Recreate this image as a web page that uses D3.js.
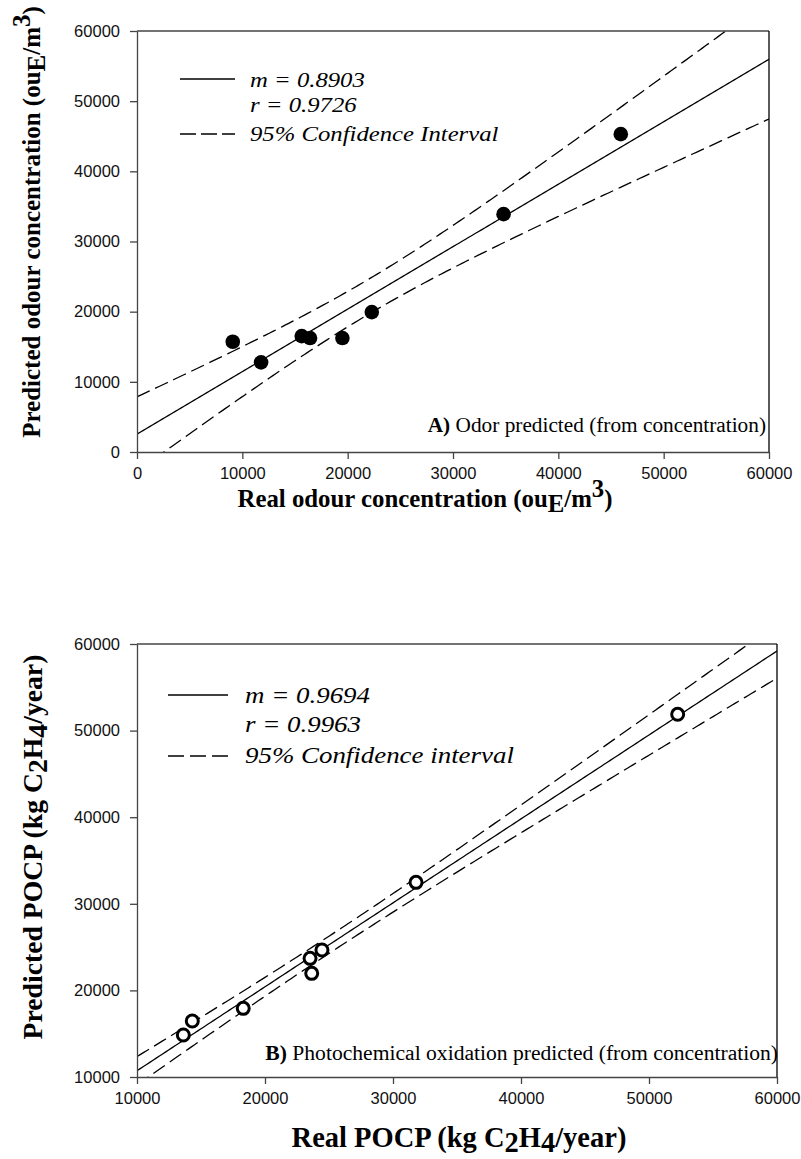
<!DOCTYPE html>
<html>
<head>
<meta charset="utf-8">
<script src="https://cdn.jsdelivr.net/npm/d3@7"></script>
<style>
  html, body { margin: 0; padding: 0; background: #fff; }
  svg { display: block; }
  .tick text { font-family: "Liberation Sans", Arial, sans-serif; font-size: 16.5px; fill: #111; }
  .ttl { font-family: "Liberation Serif", "Times New Roman", serif; font-weight: bold; fill: #000; }
  .leg { font-family: "Liberation Serif", "Times New Roman", serif; font-style: italic; fill: #000; }
  .note { font-family: "Liberation Serif", "Times New Roman", serif; fill: #000; }
</style>
</head>
<body>
<svg id="fig" width="801" height="1159"></svg>
<script>
// Panel A: odour concentration (ouE/m3), real vs predicted
const odourReal = [9090, 11780, 15640, 16430, 19500, 22290, 34800, 45930];
const odourPred = [15710, 12780, 16520, 16240, 16240, 19940, 33900, 45300];
const odourSlope = 0.8903;
const odourR = 0.9726;
const odourTicksX = [0, 10000, 20000, 30000, 40000, 50000, 60000];
const odourTicksY = [0, 10000, 20000, 30000, 40000, 50000, 60000];

// Panel B: photochemical ozone creation potential (kg C2H4/year)
const pocpReal = [13620, 14320, 18300, 23520, 23650, 24450, 31800, 52240];
const pocpPred = [14850, 16470, 17930, 23700, 21970, 24670, 32480, 51880];
const pocpSlope = 0.9694;
const pocpR = 0.9963;
const pocpTicksX = [10000, 20000, 30000, 40000, 50000, 60000];
const pocpTicksY = [10000, 20000, 30000, 40000, 50000, 60000];

// Student t (two-sided 95%, n - 2 = 6 degrees of freedom)
const T95 = 2.447;

const svg = d3.select("#fig");
svg.append("rect").attr("width", 801).attr("height", 1159).attr("fill", "#fff");

// Line with the reported slope through the data centroid,
// plus the 95% confidence band of the mean response.
function fitModel(xs, ys, m) {
  const n = xs.length;
  const xbar = d3.mean(xs), ybar = d3.mean(ys);
  const b = ybar - m * xbar;
  const sxx = d3.sum(xs, x => (x - xbar) ** 2);
  const sse = d3.sum(xs.map((x, i) => (ys[i] - (m * x + b)) ** 2));
  const s = Math.sqrt(sse / (n - 2));
  const half = x => T95 * s * Math.sqrt(1 / n + (x - xbar) ** 2 / sxx);
  return { m, b, half };
}

function panel(cfg) {
  const { id, left, top, right, bottom, xs, ys, slope, ticksX, ticksY } = cfg;
  const x = d3.scaleLinear().domain(d3.extent(ticksX)).range([left, right]);
  const y = d3.scaleLinear().domain(d3.extent(ticksY)).range([bottom, top]);
  const g = svg.append("g");

  g.append("clipPath").attr("id", id)
    .append("rect").attr("x", left).attr("y", top)
    .attr("width", right - left).attr("height", bottom - top);

  const model = fitModel(xs, ys, slope);
  const [d0, d1] = x.domain();
  const grid = d3.range(0, 201).map(i => d0 + (d1 - d0) * i / 200);
  const line = d3.line().x(d => x(d[0])).y(d => y(d[1]));

  const plot = g.append("g").attr("clip-path", `url(#${id})`);
  plot.append("path")
    .attr("d", line(grid.map(v => [v, model.m * v + model.b])))
    .attr("fill", "none").attr("stroke", "#000").attr("stroke-width", 1.3);
  [1, -1].forEach(sign => {
    plot.append("path")
      .attr("d", line(grid.map(v => [v, model.m * v + model.b + sign * model.half(v)])))
      .attr("fill", "none").attr("stroke", "#000").attr("stroke-width", 1.3)
      .attr("stroke-dasharray", cfg.dash);
  });

  // frame: top and right edges
  g.append("line").attr("x1", left).attr("x2", right).attr("y1", top).attr("y2", top)
    .attr("stroke", "#444").attr("stroke-width", 1.3);
  g.append("line").attr("x1", right).attr("x2", right).attr("y1", top).attr("y2", bottom)
    .attr("stroke", "#000").attr("stroke-width", 1.3);

  const ax = g.append("g").attr("transform", `translate(0,${bottom})`)
    .call(d3.axisBottom(x).tickValues(ticksX).tickFormat(d3.format("d"))
      .tickSize(7).tickSizeOuter(0).tickPadding(8));
  const ay = g.append("g").attr("transform", `translate(${left},0)`)
    .call(d3.axisLeft(y).tickValues(ticksY).tickFormat(d3.format("d"))
      .tickSize(7).tickSizeOuter(0).tickPadding(10));
  [ax, ay].forEach(a => {
    a.select(".domain").attr("stroke", "#444").attr("stroke-width", 1.3);
    a.selectAll(".tick line").attr("stroke", "#444").attr("stroke-width", 1.3);
    a.attr("font-family", null).attr("font-size", null);
  });

  // data points
  const pts = plot.append("g");
  xs.forEach((v, i) => {
    const c = pts.append("circle").attr("cx", x(v)).attr("cy", y(ys[i]));
    if (cfg.filled) c.attr("r", 7.3).attr("fill", "#000");
    else c.attr("r", 6).attr("fill", "#fff").attr("stroke", "#000").attr("stroke-width", 3);
  });
  return { g, x, y };
}

// legend: solid line + two stat lines + dashed line, italic serif text
function legend(g, x0, x1, tx, ys, size, sx, texts, dash) {
  g.append("line").attr("x1", x0).attr("x2", x1).attr("y1", ys[0] - 8).attr("y2", ys[0] - 8)
    .attr("stroke", "#000").attr("stroke-width", 1.3);
  g.append("line").attr("x1", x0).attr("x2", x1).attr("y1", ys[2] - 7).attr("y2", ys[2] - 7)
    .attr("stroke", "#000").attr("stroke-width", 1.3).attr("stroke-dasharray", dash);
  texts.forEach((t, i) => {
    g.append("g").attr("transform", `translate(${tx},${ys[i]}) scale(${sx},1)`)
      .append("text").attr("class", "leg").attr("font-size", size).text(t);
  });
}

// ---- Panel A ----
const A = panel({
  id: "clipA", left: 137, top: 31, right: 769, bottom: 452,
  xs: odourReal, ys: odourPred, slope: odourSlope,
  ticksX: odourTicksX, ticksY: odourTicksY, filled: true, dash: "14,6"
});

legend(A.g, 180, 235, 250, [87, 112, 141], 21.5, 1.15,
  [`m = ${odourSlope.toFixed(4)}`, `r = ${odourR.toFixed(4)}`, "95% Confidence Interval"], "16,5");

const noteA = A.g.append("text").attr("class", "note").attr("x", 766).attr("y", 432)
  .attr("text-anchor", "end").attr("font-size", 21.3);
noteA.append("tspan").attr("font-weight", "bold").text("A)");
noteA.append("tspan").text(" Odor predicted (from concentration)");

const ytA = svg.append("text").attr("class", "ttl").attr("font-size", 25)
  .attr("transform", "translate(40,222) rotate(-90)").attr("text-anchor", "middle");
ytA.append("tspan").text("Predicted odour concentration (ou");
ytA.append("tspan").attr("dy", 5).text("E");
ytA.append("tspan").attr("dy", -5).text("/m");
ytA.append("tspan").attr("dy", -10).text("3");
ytA.append("tspan").attr("dy", 10).text(")");

const xtA = svg.append("text").attr("class", "ttl").attr("font-size", 24.8)
  .attr("x", 425).attr("y", 507).attr("text-anchor", "middle");
xtA.append("tspan").text("Real odour concentration (ou");
xtA.append("tspan").attr("dy", 5).text("E");
xtA.append("tspan").attr("dy", -5).text("/m");
xtA.append("tspan").attr("dy", -10).text("3");
xtA.append("tspan").attr("dy", 10).text(")");

// ---- Panel B ----
const B = panel({
  id: "clipB", left: 137, top: 644, right: 777, bottom: 1077,
  xs: pocpReal, ys: pocpPred, slope: pocpSlope,
  ticksX: pocpTicksX, ticksY: pocpTicksY, filled: false, dash: "14,6"
});

legend(B.g, 168, 228, 245, [703, 732, 763], 23, 1.17,
  [`m = ${pocpSlope.toFixed(4)}`, `r = ${pocpR.toFixed(4)}`, "95% Confidence interval"], "16,6");

const noteB = B.g.append("text").attr("class", "note").attr("x", 778).attr("y", 1060)
  .attr("text-anchor", "end").attr("font-size", 21.6);
noteB.append("tspan").attr("font-weight", "bold").text("B)");
noteB.append("tspan").text(" Photochemical oxidation predicted (from concentration)");

const ytB = svg.append("text").attr("class", "ttl").attr("font-size", 27.7)
  .attr("transform", "translate(42,847) rotate(-90)").attr("text-anchor", "middle");
ytB.append("tspan").text("Predicted POCP (kg C");
ytB.append("tspan").attr("dy", 5).text("2");
ytB.append("tspan").attr("dy", -5).text("H");
ytB.append("tspan").attr("dy", 5).text("4");
ytB.append("tspan").attr("dy", -5).text("/year)");

const xtB = svg.append("text").attr("class", "ttl").attr("font-size", 28.5)
  .attr("x", 459).attr("y", 1147).attr("text-anchor", "middle");
xtB.append("tspan").text("Real POCP (kg C");
xtB.append("tspan").attr("dy", 5).text("2");
xtB.append("tspan").attr("dy", -5).text("H");
xtB.append("tspan").attr("dy", 5).text("4");
xtB.append("tspan").attr("dy", -5).text("/year)");
</script>
</body>
</html>
